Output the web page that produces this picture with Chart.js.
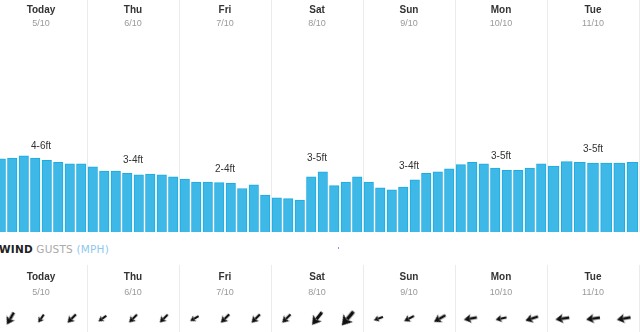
<!DOCTYPE html>
<html><head><meta charset="utf-8">
<script src="https://cdn.jsdelivr.net/npm/chart.js@4.4.0/dist/chart.umd.min.js"></script>
<style>
html,body{margin:0;padding:0;width:640px;height:332px;overflow:hidden;background:#fff;position:relative}
canvas{position:absolute;left:-5px}
#top{top:0;width:645px;height:232px}
#bot{top:265px;width:645px;height:67px}
#title{position:absolute;left:-1px;top:244px;font:10.5px/11px 'DejaVu Sans',sans-serif;white-space:nowrap;letter-spacing:0.2px}
#dot{position:absolute;left:338px;top:247px;width:1px;height:2px;background:#8a8aff}
</style></head><body>
<canvas id="top" width="645" height="232"></canvas>
<div id="title"><b style="color:#222">WIND</b> <span style="color:#aaa">GUSTS</span> <span style="color:#8dc8ef">(MPH)</span></div>
<div id="dot"></div>
<canvas id="bot" width="645" height="67"></canvas>
<script>
// ---- data ----
const days = ['Today', 'Thu', 'Fri', 'Sat', 'Sun', 'Mon', 'Tue'];
const dates = ['5/10', '6/10', '7/10', '8/10', '9/10', '10/10', '11/10'];
const surfRanges = ['4-6ft', '3-4ft', '2-4ft', '3-5ft', '3-4ft', '3-5ft', '3-5ft'];
const waveToday = [5.05, 5.1, 5.25, 5.1, 4.95, 4.8, 4.7, 4.7];
const waveThu = [4.5, 4.2, 4.2, 4.05, 3.95, 4.0, 3.95, 3.8];
const waveFri = [3.65, 3.45, 3.45, 3.4, 3.35, 3.0, 3.25, 2.55];
const waveSat = [2.35, 2.3, 2.2, 3.8, 4.15, 3.2, 3.45, 3.8];
const waveSun = [3.45, 3.05, 2.9, 3.1, 3.6, 4.05, 4.15, 4.35];
const waveMon = [4.65, 4.8, 4.7, 4.4, 4.25, 4.25, 4.4, 4.7];
const waveTue = [4.55, 4.85, 4.8, 4.75, 4.75, 4.75, 4.8];
// wind gusts, 3 per day: speed (mph) and direction the wind comes from (degrees)
const gustSpeed = [20, 14, 17, 14, 16, 16, 14, 17, 17, 17, 23, 26, 14, 16, 19, 19, 16, 19, 20, 20, 20];
const gustDir = [30, 35, 45, 55, 45, 45, 60, 45, 45, 45, 38, 40, 70, 62, 60, 80, 78, 72, 82, 82, 80];

const waveDays = [waveToday, waveThu, waveFri, waveSat, waveSun, waveMon, waveTue];

// slot-in-day positions (time of day as fraction of the day)
function slots(dayIndex, arr) {
  return arr.map((v, i) => ({ x: dayIndex + (i + 0.5) / arr.length, y: v }));
}
const mainPoints = [];
for (let d = 0; d < 6; d++) mainPoints.push(...slots(d, waveDays[d]));
const tuePoints = slots(6, waveTue);

const FONT = '"Liberation Sans", Arial, sans-serif';

function headerPlugin(nameY, dateY) {
  return {
    id: 'hdr',
    afterDraw(chart) {
      const ctx = chart.ctx, xs = chart.scales.x;
      ctx.save();
      ctx.textAlign = 'center';
      ctx.textBaseline = 'middle';
      days.forEach((d, i) => {
        const px = xs.getPixelForValue(i + 0.5);
        ctx.font = 'bold 10px ' + FONT;
        ctx.fillStyle = '#333';
        ctx.fillText(d, px, nameY);
        ctx.font = '9px ' + FONT;
        ctx.fillStyle = '#9a9a9a';
        ctx.fillText(dates[i], px, dateY);
      });
      ctx.restore();
    }
  };
}

const rangePlugin = {
  id: 'ranges',
  afterDatasetsDraw(chart) {
    const ctx = chart.ctx;
    const m0 = chart.getDatasetMeta(0).data, m1 = chart.getDatasetMeta(1).data;
    ctx.save();
    ctx.textAlign = 'center';
    ctx.textBaseline = 'middle';
    ctx.font = '10px ' + FONT;
    ctx.fillStyle = '#333';
    surfRanges.forEach((r, d) => {
      const el = d < 6 ? m0[d * 8 + 4] : m1[3];
      ctx.fillText(r, chart.scales.x.getPixelForValue(d + 0.5), el.y - 14);
    });
    ctx.restore();
  }
};

function gridX() {
  return {
    type: 'linear', min: 0, max: 7, offset: false,
    ticks: { display: false, stepSize: 1 },
    grid: { color: '#ebebeb', drawTicks: false, lineWidth: 1, offset: false },
    border: { display: false }
  };
}

new Chart(document.getElementById('top'), {
  type: 'bar',
  data: {
    datasets: [
      { data: mainPoints, backgroundColor: '#3db8e7', borderColor: '#1eabe0', borderWidth: 1, barThickness: 9.5, grouped: false },
      { data: tuePoints, backgroundColor: '#3db8e7', borderColor: '#1eabe0', borderWidth: 1, barThickness: 11, grouped: false }
    ]
  },
  options: {
    responsive: false, animation: false, events: [],
    layout: { autoPadding: false, padding: { left: 0, right: 1, top: 0, bottom: 0 } },
    plugins: { legend: { display: false }, tooltip: { enabled: false } },
    scales: {
      x: gridX(),
      y: { display: false, min: 0, max: 16 }
    }
  },
  plugins: [headerPlugin(10.5, 24), rangePlugin]
});

function arrowImg(g) {
  const L = g * 0.7;
  const s = Math.ceil(L + 6);
  const c = document.createElement('canvas');
  c.width = s; c.height = s;
  const x = c.getContext('2d');
  x.translate(s / 2, s / 2);
  x.fillStyle = '#111';
  const hl = L * 0.55, hw = L * 0.34, t = Math.max(2.2, L * 0.2);
  x.fillRect(-L / 2, -t / 2, L - hl * 0.8, t);
  x.beginPath();
  x.moveTo(L / 2, 0);
  x.lineTo(L / 2 - hl, -hw);
  x.lineTo(L / 2 - hl * 0.75, 0);
  x.lineTo(L / 2 - hl, hw);
  x.closePath();
  x.fill();
  return c;
}

new Chart(document.getElementById('bot'), {
  type: 'scatter',
  data: {
    datasets: [{
      data: gustSpeed.map((g, k) => ({ x: Math.floor(k / 3) + (2 * (k % 3) + 1) / 6, y: 0 })),
      pointStyle: gustSpeed.map(arrowImg),
      rotation: gustDir.map(d => d + 90),
      radius: 8
    }]
  },
  options: {
    responsive: false, animation: false, events: [],
    layout: { autoPadding: false, padding: { left: 0, right: 1, top: 0, bottom: 0 } },
    plugins: { legend: { display: false }, tooltip: { enabled: false } },
    scales: {
      x: gridX(),
      y: { display: false, min: -1, max: 4 }
    }
  },
  plugins: [headerPlugin(12.7, 28)]
});
</script>
</body></html>
